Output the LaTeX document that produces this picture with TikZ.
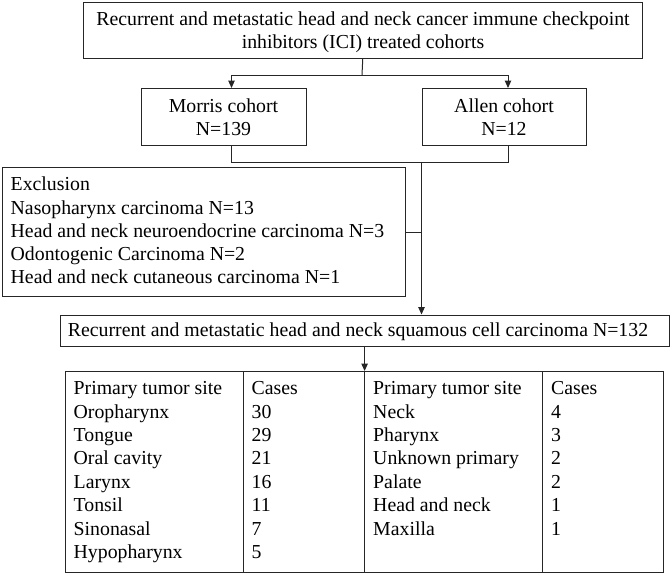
\documentclass[tikz,border=0pt]{standalone}
\usepackage{fontspec}
\setmainfont{Liberation Serif}
\usetikzlibrary{arrows.meta,calc}
\begin{document}
\begin{tikzpicture}[x=1pt,y=-1pt,
  box/.style={draw=black!85, line width=1pt, inner sep=0pt, anchor=north west},
  txt/.style={font=\fontsize{19.8}{23.3}\selectfont, inner sep=0pt, text=black},
  link/.style={draw=black!85, line width=1pt},
  arr/.style={link, -{Triangle[length=7.5pt,width=6.5pt]}}]
\useasboundingbox (0,0) rectangle (671,574);

% boxes
\node[box, minimum width=559.5pt, minimum height=56pt] (top) at (82.5,1.7) {};
\node[box, minimum width=165pt, minimum height=57pt] (morris) at (141,88) {};
\node[box, minimum width=164.5pt, minimum height=57pt] (allen) at (421.5,88) {};
\node[box, minimum width=403pt, minimum height=129pt] (excl) at (2,167) {};
\node[box, minimum width=609pt, minimum height=31pt] (scc) at (59.5,314.5) {};
\node[box, minimum width=598pt, minimum height=201pt] (table) at (65,371) {};

% texts
\node[txt, anchor=base] (toptxt1) at (363,25) {Recurrent and metastatic head and neck cancer immune checkpoint};
\node[txt, anchor=base] (toptxt2) at (363,48.3) {inhibitors (ICI) treated cohorts};
\node[txt, anchor=base] (morristxt1) at (223.5,112) {Morris cohort};
\node[txt, anchor=base] (morristxt2) at (223.5,135.3) {N=139};
\node[txt, anchor=base] (allentxt1) at (504,112) {Allen cohort};
\node[txt, anchor=base] (allentxt2) at (504,135.3) {N=12};
\foreach \t [count=\i from 0] in {Exclusion,Nasopharynx carcinoma N=13,Head and neck neuroendocrine carcinoma N=3,Odontogenic Carcinoma N=2,Head and neck cutaneous carcinoma N=1}
  \node[txt, anchor=base west] (excltxt\i) at (10.5,190.7+23.3*\i) {\t};
\node[txt, anchor=base] (scctxt) at (358,336) {Recurrent and metastatic head and neck squamous cell carcinoma N=132};

% table contents
\foreach \t [count=\i from 0] in {Primary tumor site,Oropharynx,Tongue,Oral cavity,Larynx,Tonsil,Sinonasal,Hypopharynx}
  \node[txt, anchor=base west] (ca\i) at (73.5,394.6+23.4*\i) {\t};
\foreach \t [count=\i from 0] in {Cases,30,29,21,16,11,7,5}
  \node[txt, anchor=base west] (cb\i) at (251.5,394.6+23.4*\i) {\t};
\foreach \t [count=\i from 0] in {Primary tumor site,Neck,Pharynx,Unknown primary,Palate,Head and neck,Maxilla}
  \node[txt, anchor=base west] (cc\i) at (373,394.6+23.4*\i) {\t};
\foreach \t [count=\i from 0] in {Cases,4,3,2,2,1,1}
  \node[txt, anchor=base west] (cd\i) at (551,394.6+23.4*\i) {\t};

% table dividers
\coordinate (d1) at (243,0);
\coordinate (d2) at (364.6,0);
\coordinate (d3) at (542.5,0);
\foreach \d in {d1,d2,d3}
  \draw[link] (\d |- table.north) -- (\d |- table.south);

% connectors
\coordinate (split) at (362,75);
\coordinate (sl) at (231.5,75);
\coordinate (sr) at (508,75);
\draw[link] (top.south) -- (split);
\draw[link] (sl) -- (sr);
\draw[arr] (sl) -- (sl |- morris.north);
\draw[arr] (sr) -- (sr |- allen.north);

\coordinate (ml) at (231.5,162);
\coordinate (mr) at (508,162);
\coordinate (mj) at (421.5,162);
\draw[link] (ml |- morris.south) -- (ml) -- (mr) -- (mr |- allen.south);
\draw[arr] (mj) -- (mj |- scc.north);
\draw[link] (excl.east) -- (excl.east -| mj);

\draw[arr] (d2 |- scc.south) -- (d2 |- table.north);
\end{tikzpicture}
\end{document}
